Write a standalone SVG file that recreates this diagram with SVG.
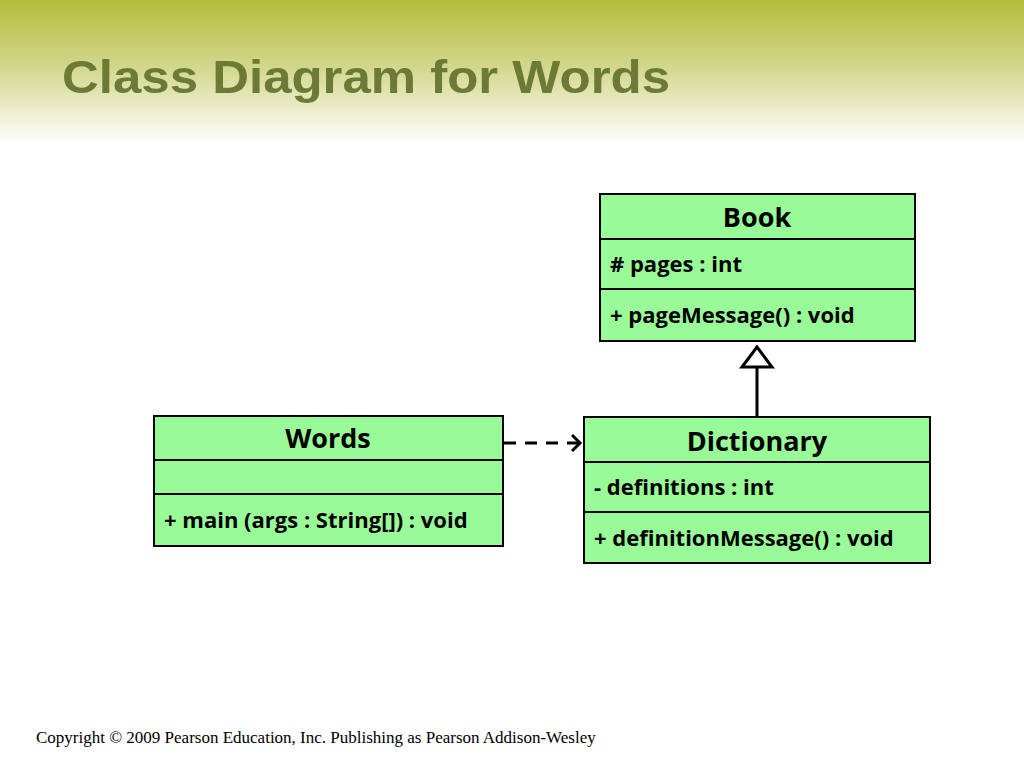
<svg xmlns="http://www.w3.org/2000/svg" width="1024" height="768" viewBox="0 0 1024 768">
<defs>
<linearGradient id="hdr" x1="0" y1="0" x2="0" y2="1">
<stop offset="0" stop-color="#b5bd3c"/>
<stop offset="0.45" stop-color="#d2d68a"/>
<stop offset="1" stop-color="#ffffff"/>
</linearGradient>
<marker id="open" markerWidth="14" markerHeight="20" refX="11" refY="10" orient="auto" markerUnits="userSpaceOnUse">
<path d="M3,2 L11,10 L3,18" fill="none" stroke="#000" stroke-width="3"/>
</marker>
</defs>
<style>
.box{fill:#98fb98;stroke:#000;stroke-width:2}
.t{font-family:"Open Sans","Noto Sans",sans-serif;font-weight:bold;font-size:27px;text-anchor:middle}
.a{font-family:"Open Sans","Noto Sans",sans-serif;font-weight:bold;font-size:22px}
.c{stroke:#000;stroke-width:3;fill:none}
</style>
<rect width="1024" height="768" fill="#fff"/>
<rect width="1024" height="145" fill="url(#hdr)"/>
<text x="62" y="93" font-family="Liberation Sans, Arial, sans-serif" font-weight="bold" font-size="47" fill="#6b7a35" textLength="608" lengthAdjust="spacingAndGlyphs">Class Diagram for Words</text>
<g id="book">
<rect class="box" x="600" y="194" width="315" height="147"/>
<line x1="600" y1="239" x2="915" y2="239" stroke="#000" stroke-width="2"/>
<line x1="600" y1="289" x2="915" y2="289" stroke="#000" stroke-width="2"/>
<text class="t" x="757" y="227">Book</text>
<text class="a" x="610" y="272"># pages : int</text>
<text class="a" x="610" y="323">+ pageMessage() : void</text>
</g>
<g id="words">
<rect class="box" x="154" y="416" width="349" height="130"/>
<line x1="154" y1="460" x2="503" y2="460" stroke="#000" stroke-width="2"/>
<line x1="154" y1="494" x2="503" y2="494" stroke="#000" stroke-width="2"/>
<text class="t" x="328" y="448">Words</text>
<text class="a" x="164" y="528">+ main (args : String[]) : void</text>
</g>
<g id="dictionary">
<rect class="box" x="584" y="417" width="346" height="146"/>
<line x1="584" y1="462" x2="930" y2="462" stroke="#000" stroke-width="2"/>
<line x1="584" y1="512" x2="930" y2="512" stroke="#000" stroke-width="2"/>
<text class="t" x="757" y="451">Dictionary</text>
<text class="a" x="594" y="495">- definitions : int</text>
<text class="a" x="594" y="546">+ definitionMessage() : void</text>
</g>
<g id="connectors">
<line class="c" x1="504" y1="443" x2="580" y2="443" stroke-dasharray="12,9" marker-end="url(#open)"/>
<line class="c" x1="757" y1="417" x2="757" y2="367"/>
<polygon points="757,347 742,367 772,367" fill="#fff" stroke="#000" stroke-width="3"/>
</g>
<text x="36" y="743" font-family="Liberation Serif, 'Times New Roman', serif" font-size="17">Copyright © 2009 Pearson Education, Inc. Publishing as Pearson Addison-Wesley</text>
</svg>
